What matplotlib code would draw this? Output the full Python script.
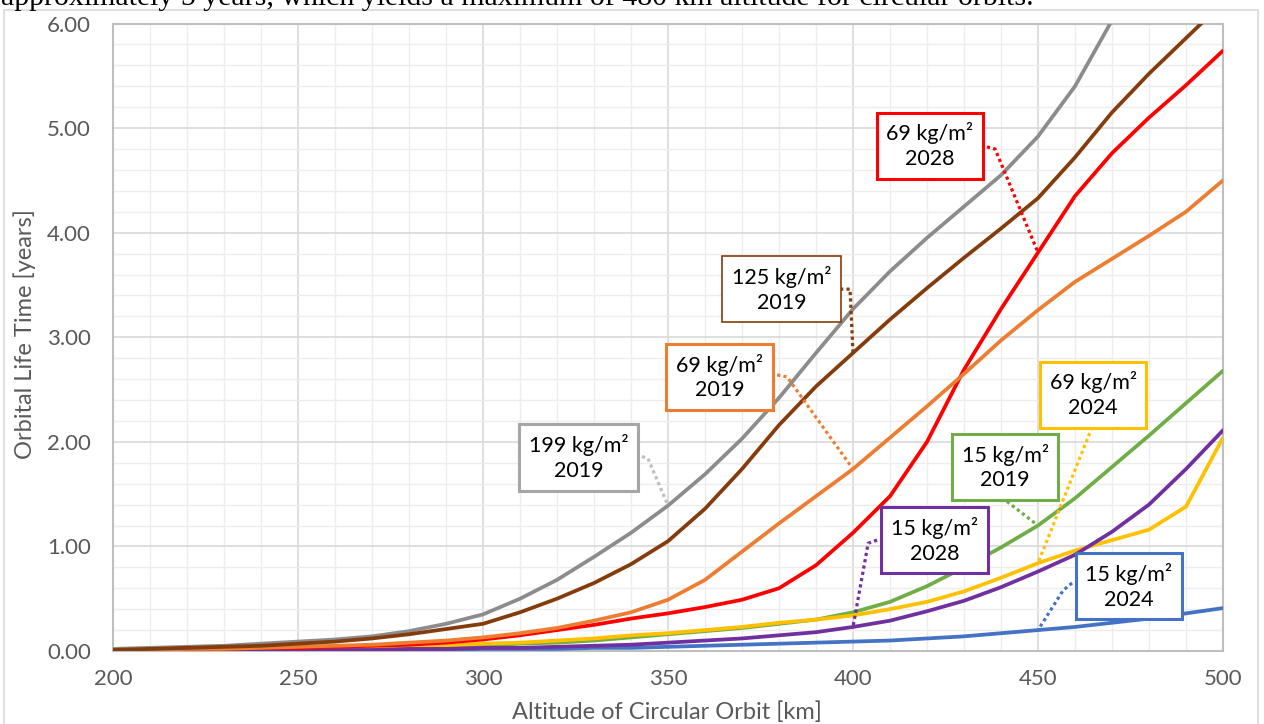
import matplotlib
matplotlib.use("Agg")
import matplotlib.pyplot as plt
from matplotlib.patches import Rectangle
from matplotlib.ticker import MultipleLocator, FormatStrFormatter

plt.rcParams['font.family'] = ['Lato', 'DejaVu Sans']

# altitude of circular orbit [km]
altitude = [200, 210, 220, 230, 240, 250, 260, 270, 280, 290, 300,
            310, 320, 330, 340, 350, 360, 370, 380, 390, 400,
            410, 420, 430, 440, 450, 460, 470, 480, 490, 500]

# orbital life time [years] per ballistic coefficient / solar-cycle year
life_199_2019 = [0.02, 0.03, 0.04, 0.05, 0.07, 0.09, 0.11, 0.14, 0.19, 0.26, 0.35,
                 0.50, 0.68, 0.90, 1.13, 1.39, 1.69, 2.03, 2.42, 2.85, 3.27,
                 3.63, 3.95, 4.25, 4.55, 4.92, 5.40, 6.03, 6.70, 7.40, 8.10]
life_125_2019 = [0.01, 0.02, 0.03, 0.04, 0.05, 0.07, 0.09, 0.12, 0.16, 0.21, 0.26,
                 0.37, 0.50, 0.65, 0.83, 1.05, 1.36, 1.74, 2.16, 2.53, 2.85,
                 3.17, 3.47, 3.76, 4.04, 4.33, 4.72, 5.15, 5.52, 5.86, 6.20]
life_69_2019 = [0.01, 0.01, 0.02, 0.02, 0.03, 0.04, 0.05, 0.06, 0.08, 0.10, 0.13,
                0.17, 0.22, 0.29, 0.37, 0.49, 0.68, 0.95, 1.22, 1.48, 1.74,
                2.04, 2.34, 2.65, 2.97, 3.26, 3.53, 3.75, 3.97, 4.20, 4.50]
life_69_2028 = [0.01, 0.01, 0.02, 0.02, 0.03, 0.03, 0.04, 0.05, 0.06, 0.08, 0.11,
                0.15, 0.20, 0.25, 0.31, 0.36, 0.42, 0.49, 0.60, 0.82, 1.13,
                1.48, 2.00, 2.69, 3.27, 3.81, 4.35, 4.76, 5.10, 5.41, 5.74]
life_15_2019 = [0.00, 0.00, 0.01, 0.01, 0.01, 0.02, 0.02, 0.03, 0.03, 0.04, 0.05,
                0.07, 0.08, 0.10, 0.13, 0.16, 0.19, 0.22, 0.26, 0.30, 0.37,
                0.47, 0.62, 0.80, 0.99, 1.20, 1.46, 1.76, 2.06, 2.37, 2.68]
life_69_2024 = [0.00, 0.00, 0.01, 0.01, 0.02, 0.02, 0.03, 0.03, 0.04, 0.05, 0.07,
                0.08, 0.10, 0.12, 0.15, 0.17, 0.20, 0.23, 0.27, 0.30, 0.34,
                0.40, 0.47, 0.57, 0.70, 0.84, 0.96, 1.06, 1.16, 1.38, 2.04]
life_15_2028 = [0.00, 0.00, 0.00, 0.00, 0.01, 0.01, 0.01, 0.01, 0.02, 0.02, 0.03,
                0.03, 0.04, 0.05, 0.06, 0.08, 0.10, 0.12, 0.15, 0.18, 0.23,
                0.29, 0.38, 0.48, 0.61, 0.76, 0.92, 1.14, 1.40, 1.74, 2.11]
life_15_2024 = [0.00, 0.00, 0.00, 0.00, 0.01, 0.01, 0.01, 0.01, 0.01, 0.01, 0.02,
                0.02, 0.02, 0.03, 0.03, 0.04, 0.05, 0.06, 0.07, 0.08, 0.09,
                0.10, 0.12, 0.14, 0.17, 0.20, 0.23, 0.27, 0.31, 0.36, 0.41]

# (values, line colour, box text, box centre, leader start points, labelled altitude)
series = [
    (life_15_2024, '#4472C4', '15 kg/m²\n2024', (474.6, 0.62), [(459.2, 0.65), (456.8, 0.58)], 450),
    (life_15_2019, '#70AD47', '15 kg/m²\n2019', (441.1, 1.76), [(441.6, 1.43)], 450),
    (life_69_2024, '#FFC000', '69 kg/m²\n2024', (464.9, 2.45), [(464.6, 2.14)], 450),
    (life_15_2028, '#7030A0', '15 kg/m²\n2028', (422.0, 1.06), [(406.5, 1.06), (404.1, 1.03)], 400),
    (life_69_2028, '#FF0000', '69 kg/m²\n2028', (420.8, 4.83), [(436.2, 4.82), (438.4, 4.80)], 450),
    (life_69_2019, '#ED7D31', '69 kg/m²\n2019', (363.9, 2.62), [(379.5, 2.64), (382.2, 2.62)], 400),
    (life_199_2019, '#8C8C8C', '199 kg/m²\n2019', (325.9, 1.85), [(343.0, 1.86), (344.6, 1.84)], 350),
    (life_125_2019, '#843C0C', '125 kg/m²\n2019', (380.7, 3.46), [(396.5, 3.46), (399.2, 3.46)], 400),
]
leader_colors = {'#8C8C8C': '#BFBFBF'}
box_edge = {'#8C8C8C': '#A6A6A6'}

fig = plt.figure(figsize=(12.64, 7.24), dpi=100)
fig.patches.append(Rectangle((4 / 1264, -0.05), 1254 / 1264, 1.05 - 10 / 724,
                             transform=fig.transFigure, fill=False,
                             edgecolor='#D9D9D9', lw=1.2))
fig.text(1 / 1264, 1 - 5 / 724,
         "approximately 5 years, which yields a maximum of 480 km altitude for circular orbits.",
         family='Liberation Serif', fontsize=21.5, va='baseline', ha='left', color='black')

ax = fig.add_axes([113 / 1264, 1 - 651 / 724, 1110 / 1264, 627.5 / 724])
ax.set_xlim(200, 500)
ax.set_ylim(0, 6)
ax.xaxis.set_major_locator(MultipleLocator(50))
ax.xaxis.set_minor_locator(MultipleLocator(10))
ax.yaxis.set_major_locator(MultipleLocator(1))
ax.yaxis.set_minor_locator(MultipleLocator(0.2))
ax.yaxis.set_major_formatter(FormatStrFormatter('%.2f'))
ax.grid(which='major', color='#D9D9D9', lw=1.2)
ax.grid(which='minor', color='#EDEDED', lw=1.0)
ax.set_axisbelow(True)
ax.tick_params(which='both', length=0)
ax.tick_params(axis='x', labelsize=16, labelcolor='#595959', pad=13)
ax.tick_params(axis='y', labelsize=16, labelcolor='#595959', pad=16)
for side in ['left', 'right', 'top', 'bottom']:
    ax.spines[side].set_color('#BFBFBF')
    ax.spines[side].set_linewidth(1.5)

for values, color, text, centre, starts, at_km in series:
    ax.plot(altitude, values, color=color, lw=2.7, solid_capstyle='round', zorder=3)

for values, color, text, centre, starts, at_km in series:
    end = (at_km, values[altitude.index(at_km)])
    xs = [p[0] for p in starts] + [end[0]]
    ys = [p[1] for p in starts] + [end[1]]
    ax.plot(xs, ys, color=leader_colors.get(color, color), lw=2.3,
            linestyle=(0, (1, 1)), dash_capstyle='butt', zorder=4)
    ax.text(centre[0], centre[1], text, ha='center', va='center', fontsize=15.5,
            linespacing=1.3, multialignment='center', color='black', zorder=5,
            bbox=dict(boxstyle='square,pad=0.45', facecolor='white',
                      edgecolor=box_edge.get(color, color),
                      lw=1.2 if color == '#843C0C' else 2.2))

fig.text(667 / 1264, 1 - 719 / 724, 'Altitude of Circular Orbit [km]', ha='center',
         va='baseline', fontsize=17, color='#595959')
fig.text(25 / 1264, 1 - 334 / 724, 'Orbital Life Time [years]', ha='center',
         va='center', rotation=90, fontsize=17, color='#595959')

fig.savefig('out.png', dpi=100)
